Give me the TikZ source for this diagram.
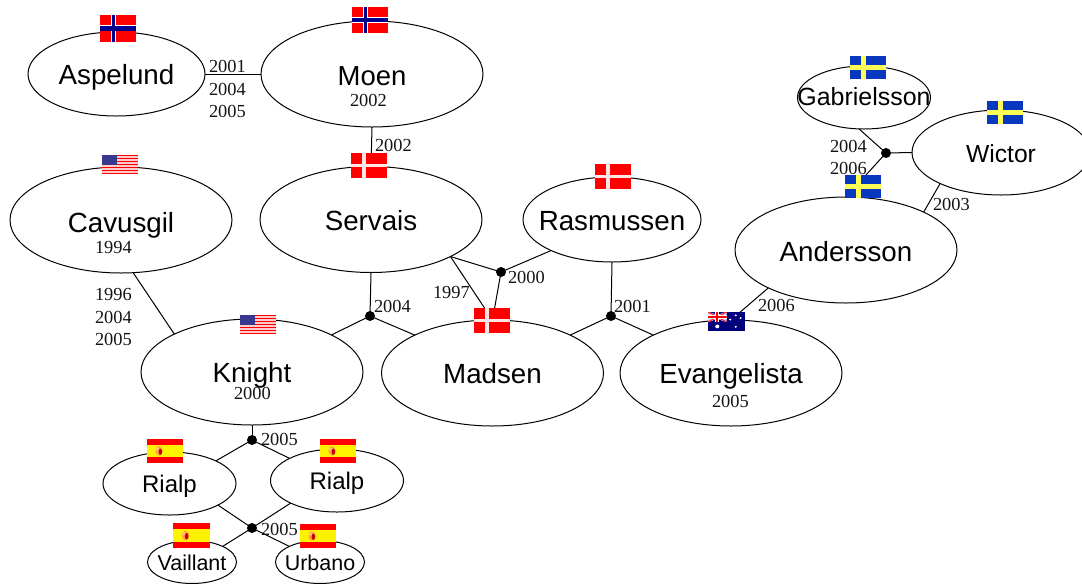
\documentclass[tikz,border=0pt]{standalone}
\usepackage{fontspec}
\setmainfont{Liberation Serif}
\newfontfamily\namefont{Liberation Sans}
\usetikzlibrary{shapes.geometric}
\definecolor{noblue}{RGB}{0,0,140}
\definecolor{seblue}{RGB}{8,56,190}
\definecolor{seyellow}{RGB}{255,255,85}
\definecolor{usblue}{RGB}{56,56,140}
\definecolor{aublue}{RGB}{0,0,125}
\tikzset{
  person/.style n args={4}{ellipse,draw=black,line width=0.75pt,inner sep=0pt,outer sep=0pt,
    minimum width=#1*1.5pt,minimum height=#2*1.5pt,
    text height=#3*1.5pt,text depth=0pt,
    font=\namefont\fontsize{#4}{#4}\selectfont},
  junction/.style={circle,fill=black,inner sep=0pt,outer sep=0pt,minimum size=7.5pt},
  link/.style={draw=black,line width=0.75pt},
  year/.style={anchor=base west,inner sep=0pt,outer sep=0pt,text=black!92,font=\fontsize{13.8}{13.8}\selectfont},
}
\newcommand{\nm}[1]{\makebox[0pt][c]{#1}}
\newcommand{\flagno}{%
  \fill[red] (0,0) rectangle (1,1);
  \fill[white] (.30,0) rectangle (.44,1);
  \fill[white] (0,.38) rectangle (1,.61);
  \fill[noblue] (.32,0) rectangle (.42,1);
  \fill[noblue] (0,.41) rectangle (1,.58);}
\newcommand{\flagdk}{%
  \fill[red] (0,0) rectangle (1,1);
  \fill[white!90!red] (.31,0) rectangle (.41,1);
  \fill[white!90!red] (0,.45) rectangle (1,.54);}
\newcommand{\flagse}{%
  \fill[seblue] (0,0) rectangle (1,1);
  \fill[seyellow] (.31,0) rectangle (.44,1);
  \fill[seyellow] (0,.39) rectangle (1,.61);}
\newcommand{\flages}{%
  \fill[red] (0,0) rectangle (1,1);
  \fill[yellow] (0,.25) rectangle (1,.75);
  \fill[orange!70!white] (.335,.50) ellipse (.10 and .20);
  \fill[red!80!black] (.37,.53) ellipse (.05 and .13);
  \fill[white!60!orange] (.29,.42) ellipse (.035 and .07);}
\newcommand{\flagus}{%
  \fill[white!80!red] (0,0) rectangle (1,1);
  \foreach \s in {0,2,4,6,8,10,12}{\fill[red] (0,\s/13) rectangle (1,\s/13+1/13);}
  \fill[usblue] (0,0) rectangle (.41,7/13);}
\newcommand{\flagau}{%
  \fill[aublue] (0,0) rectangle (1,1);
  \begin{scope}
    \clip (0,0) rectangle (.5,.52);
    \fill[white!85!blue] (0,0) rectangle (.5,.52);
    \fill[aublue] (.04,0) -- (.2,0) -- (.2,.12) -- cycle;
    \fill[aublue] (.30,0) -- (.46,0) -- (.30,.12) -- cycle;
    \fill[aublue] (.04,.52) -- (.2,.52) -- (.2,.40) -- cycle;
    \fill[aublue] (.30,.52) -- (.46,.52) -- (.30,.40) -- cycle;
    \draw[red!90!white,line width=.8pt] (0,0) -- (.5,.52) (.5,0) -- (0,.52);
    \fill[white] (.19,0) rectangle (.31,.52);
    \fill[white] (0,.17) rectangle (.5,.35);
    \fill[red] (.22,0) rectangle (.28,.52);
    \fill[red] (0,.21) rectangle (.5,.31);
  \end{scope}
  \fill[white] (.25,.76) ellipse (.055 and .10);
  \fill[white] (.75,.78) ellipse (.03 and .055);
  \fill[white] (.75,.18) ellipse (.03 and .055);
  \fill[white] (.60,.40) ellipse (.03 and .055);
  \fill[white] (.88,.32) ellipse (.03 and .055);}
\newcommand{\drawflag}[5]{%
  \begin{scope}[shift={(#2,#3)},x=#4*0.75pt,y=-#5*0.75pt]
    \csname flag#1\endcsname
  \end{scope}}
\begin{document}
\begin{tikzpicture}[x=0.75pt,y=-0.75pt]
\clip (0,0) rectangle (1082,583);
% people
\node[person={88.5}{42}{10}{20.8}] (asp) at (116.5,74) {\nm{Aspelund}};
\node[person={111}{53}{11}{20.6}] (moe) at (372,74) {\nm{Moen}};
\node[person={111}{53}{12}{20.8}] (cav) at (121,220) {\nm{Cavusgil}};
\node[person={111}{53}{10.5}{20.8}] (ser) at (371,219.5) {\nm{Servais}};
\node[person={89}{42.5}{11}{20.8}] (ras) at (612,219.5) {\nm{Rasmussen}};
\node[person={111}{53}{10}{20.8}] (kni) at (252,372) {\nm{Knight}};
\node[person={111}{53}{10}{20.8}] (mad) at (492.5,373) {\nm{Madsen}};
\node[person={111}{53}{10}{20.8}] (eva) at (731,373) {\nm{Evangelista}};
\node[person={111}{53}{11}{20.8}] (and) at (846,250) {\nm{Andersson}};
\node[person={66.5}{31.5}{8}{18.7}] (gab) at (864,97.5) {\nm{Gabrielsson}};
\node[person={89}{42.5}{10}{18.5}] (wic) at (1001,152.5) {\nm{Wictor}};
\node[person={66.5}{31.5}{9}{18}] (rl) at (169.5,483.5) {\nm{Rialp}};
\node[person={66.5}{31.5}{8.5}{18}] (rr) at (337,480.5) {\nm{Rialp}};
\node[person={44.5}{21.5}{8}{16.1}] (vai) at (192,562) {\nm{Vaillant}};
\node[person={44.5}{21.5}{8}{16.1}] (urb) at (320,562) {\nm{Urbano}};
% junctions
\node[junction] (j1) at (370,316) {};
\node[junction] (j2) at (501,272) {};
\node[junction] (j3) at (611,316) {};
\node[junction] (j4) at (886,153) {};
\node[junction] (j5) at (252,440) {};
\node[junction] (j6) at (252,528) {};
% connectors
\draw[link] (asp.east) -- (moe.west);
\draw[link] (moe.south) -- (ser.north);
\draw[link] (cav.-77) -- (kni.154);
\draw[link] (j1.center) -- (ser.south);
\draw[link] (j1.center) -- (kni.25);
\draw[link] (j1.center) -- (mad.154);
\draw[link] (ser.-25.4) -- (mad.north);
\draw[link] (j2.center) -- (ser.-25.4);
\draw[link] (j2.center) -- (ras.207);
\draw[link] (j2.center) -- (mad.north);
\draw[link] (j3.center) -- (ras.south);
\draw[link] (j3.center) -- (mad.26);
\draw[link] (j3.center) -- (eva.154);
\draw[link] (j4.center) -- (gab.-99);
\draw[link] (j4.center) -- (wic.west);
\draw[link] (j4.center) -- (and.north);
\draw[link] (wic.207) -- (and.26);
\draw[link] (and.206) -- (eva.north);
\draw[link] (j5.center) -- (kni.south);
\draw[link] (j5.center) -- (rl.26);
\draw[link] (j5.center) -- (rr.155);
\draw[link] (j6.center) -- (rl.-24);
\draw[link] (j6.center) -- (rr.-154);
\draw[link] (j6.center) -- (vai.27);
\draw[link] (j6.center) -- (urb.153);
% years
\node[year] (y1) at (209,72) {2001};
\node[year] (y2) at (209,95) {2004};
\node[year] (y3) at (209,117) {2005};
\node[year] (y4) at (350,106.5) {2002};
\node[year] (y5) at (375,151) {2002};
\node[year] (y6) at (95,253) {1994};
\node[year] (y7) at (95,300) {1996};
\node[year] (y8) at (95,323) {2004};
\node[year] (y9) at (95,345) {2005};
\node[year] (y10) at (433,298) {1997};
\node[year] (y11) at (508,283) {2000};
\node[year] (y12) at (374,312) {2004};
\node[year] (y13) at (614,312) {2001};
\node[year] (y14) at (234,399) {2000};
\node[year] (y15) at (712,407) {2005};
\node[year] (y16) at (758,311) {2006};
\node[year] (y17) at (933,210) {2003};
\node[year] (y18) at (830,152) {2004};
\node[year] (y19) at (830,174) {2006};
\node[year] (y20) at (261,445) {2005};
\node[year] (y21) at (261,535) {2005};
% flags
\drawflag{no}{100}{15}{36}{27}
\drawflag{no}{352}{7}{36}{26}
\drawflag{us}{102}{155}{36}{19}
\drawflag{us}{240}{315}{36}{19}
\drawflag{dk}{351}{153}{36}{25}
\drawflag{dk}{595}{164}{36}{25}
\drawflag{dk}{474}{308}{36}{25}
\drawflag{se}{850}{56}{36}{23}
\drawflag{se}{987}{101}{36}{23}
\drawflag{se}{845}{175}{36}{23}
\drawflag{au}{708}{312}{37}{19}
\drawflag{es}{147}{439}{36}{24}
\drawflag{es}{320}{439}{36}{24}
\drawflag{es}{173}{523}{37}{25}
\drawflag{es}{300}{524}{36}{24}
\end{tikzpicture}
\end{document}
